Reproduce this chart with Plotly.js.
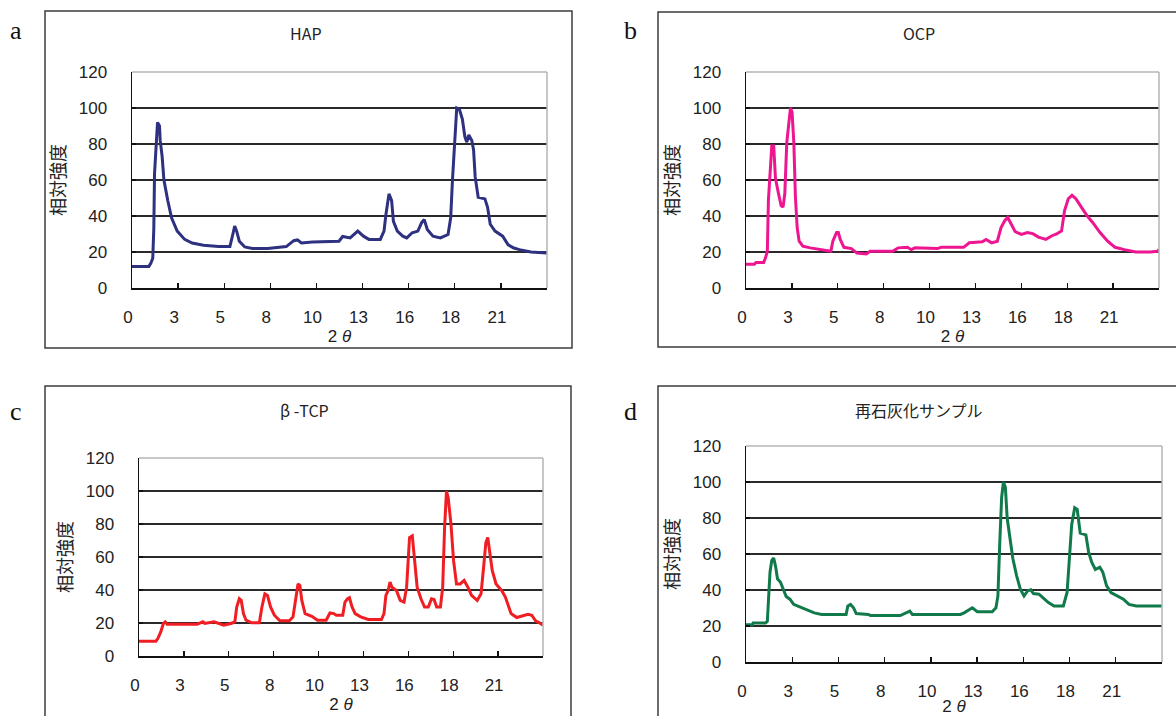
<!DOCTYPE html>
<html>
<head>
<meta charset="utf-8">
<script src="https://cdn.plot.ly/plotly-3.0.1.min.js"></script>
<style>
html,body{margin:0;padding:0;background:#fff;}
#chart{width:1176px;height:716px;}
</style>
</head>
<body>
<div id="chart"></div>
<script>
// ---- data (2θ, relative intensity) ----
const panelTitles = ['HAP', 'OCP', 'β -TCP', '再石灰化サンプル'];
const panelLetters = ['a', 'b', 'c', 'd'];

const xTickVals = [0, 2.6, 5.2, 7.8, 10.4, 13, 15.6, 18.2, 20.8];
const xTickText = ['0', '3', '5', '8', '10', '13', '16', '18', '21'];
const yTickVals = [0, 20, 40, 60, 80, 100, 120];

const xHAP = [0,0.95,1.06,1.17,1.23,1.27,1.38,1.44,1.55,1.59,1.70,1.80,2.02,2.23,2.55,2.97,3.39,4.03,4.88,5.52,5.69,5.79,5.90,6.05,6.36,6.79,7.64,8.70,9.12,9.33,9.55,10.18,11.67,11.88,12.30,12.73,13.05,13.36,14.00,14.21,14.32,14.49,14.64,14.74,14.96,15.27,15.49,15.80,16.12,16.33,16.48,16.65,16.97,17.39,17.82,17.97,18.07,18.20,18.31,18.46,18.63,18.77,18.88,18.99,19.16,19.26,19.35,19.52,19.90,20.05,20.20,20.47,20.90,21.21,21.53,21.85,22.49,23.40];
const yHAP = [12,12,13.7,16.5,33,63.5,82,92,90,82,73,60,48.5,39,31.6,27,25,23.7,23,23,30,34.4,31.6,26,22.8,22,22,23,26.3,26.7,25,25.6,26,28.6,27.8,31.6,28.8,27,27,31.6,41,52.3,48.5,37,31.6,28.8,27.8,30.7,31.6,36.3,38,32.5,28.8,27.8,29.7,39,60,82,100,99.3,93.7,84,81,85,82,76.7,61.7,50.4,49.5,44.8,35.4,31.6,28.8,24,22.2,21.3,20,19.4];

const xOCP = [0,0.47,0.57,1.0,1.10,1.21,1.27,1.36,1.46,1.57,1.67,1.84,1.99,2.10,2.20,2.31,2.44,2.52,2.61,2.71,2.80,2.90,3.01,3.22,3.64,4.28,4.81,4.92,5.13,5.23,5.34,5.55,5.97,6.29,6.82,7.03,8.31,8.62,9.15,9.36,9.58,10.85,11.06,12.33,12.65,13.39,13.60,13.92,14.24,14.45,14.66,14.83,14.98,15.25,15.61,15.93,16.25,16.57,16.99,17.31,17.63,17.88,18.05,18.26,18.47,18.69,19.00,19.32,19.64,20.06,20.49,20.91,21.44,22.08,22.92,23.31,23.40];
const yOCP = [13.2,13.2,14.2,14.2,16.6,20.4,48.7,65.7,78.9,78.9,60.8,52.5,45.8,44.9,52.5,80.8,94,100,97.7,80.8,50.6,33.6,26,23.2,22.3,21.3,20.4,26,30.8,30.8,27,22.6,21.9,19.4,18.9,20.4,20.4,22.3,22.6,21.3,22.3,21.9,22.6,22.6,25.1,25.7,27,25.1,26,33.6,37.4,39.2,36.4,31.3,29.8,30.8,30.2,28.3,27,28.9,30.2,31.7,43,49.6,51.5,49.6,44.9,40.2,36.4,30.8,26,22.6,21.3,20,20,20.4,21.3];

const xTCP = [0,0.98,1.09,1.26,1.41,1.52,1.63,3.37,3.70,3.81,4.35,4.68,4.90,5.33,5.55,5.66,5.81,5.92,6.05,6.20,6.53,6.97,7.12,7.29,7.44,7.62,7.84,8.16,8.71,8.92,9.10,9.21,9.32,9.43,9.62,10.01,10.34,10.84,11.06,11.28,11.43,11.80,11.93,12.08,12.19,12.34,12.52,12.84,13.28,14.04,14.19,14.30,14.43,14.54,14.65,14.91,15.13,15.35,15.50,15.59,15.67,15.83,15.93,16.11,16.33,16.54,16.76,16.94,17.09,17.24,17.46,17.59,17.70,17.81,17.91,18.07,18.22,18.39,18.61,18.83,19.05,19.26,19.59,19.81,19.96,20.09,20.20,20.31,20.46,20.68,21.01,21.22,21.55,21.88,22.20,22.53,22.75,22.97,23.19,23.40];
const yTCP = [9,9,10.6,14.6,19.7,20.7,19.3,19.3,20.7,19.7,20.7,19.7,18.7,19.7,20.7,29.7,34.7,33.7,25.7,21.7,20.1,20.1,29.7,37.7,36.7,29.7,24.7,21.3,21.3,23.7,37.7,43.7,42.7,33.7,25.7,24.1,21.7,21.7,26.1,25.7,24.7,24.7,32.7,34.7,35.3,29.7,25.7,23.7,22.1,22.1,25.7,36.7,39.7,44.8,41.7,39.7,33.7,32.7,41.7,61.8,71.8,72.8,59.8,41.7,34.7,29.7,29.7,34.7,34.2,29.7,29.7,41.7,77.9,100,95.9,79.9,57.8,43.7,43.7,45.8,41.7,36.7,33.7,37.7,53.8,68.8,71.8,63.8,51.8,43.7,39.7,35.7,25.7,23.3,24.1,25.3,24.7,21.3,20.1,18.7];

const xREM = [0,0.36,0.40,1.10,1.20,1.26,1.35,1.45,1.56,1.67,1.77,1.94,2.11,2.26,2.47,2.68,2.99,3.41,3.84,4.26,5.63,5.73,5.88,6.05,6.20,6.89,7.00,8.68,9.00,9.21,9.36,12.06,12.27,12.58,12.73,13.01,13.85,14.06,14.17,14.27,14.38,14.48,14.59,14.69,14.80,15.01,15.22,15.43,15.64,15.85,16.02,16.17,16.48,16.69,17.01,17.33,17.85,18.06,18.17,18.32,18.49,18.63,18.80,19.12,19.27,19.44,19.65,19.90,20.07,20.28,20.53,20.91,21.23,21.54,21.96,23.40];
const yREM = [20.7,20.7,21.7,21.7,22.6,36.7,49.9,56.5,57.8,52.7,46.2,44.3,39.6,36.4,34.9,32,30.7,29.2,27.3,26.4,26.4,31.1,32,30.1,26.9,26.4,25.8,25.8,27.3,28.3,26.4,26.4,27.3,29.2,30.1,27.9,27.9,30.1,36.7,65,91.4,100,97,80,72.5,57.5,48,40.5,36.7,39.6,40.1,38,37.7,35.8,33,31.1,31.1,38.6,53.7,76.3,85.7,84.8,71.6,70.6,61.2,55.6,51.4,52.7,49.9,42.4,38.6,36.7,34.9,32,31.1,31.1];

// ---- styling / layout ----
const W = 1176, H = 716;
const colors = ['#2e3080', '#ee1590', '#f01e23', '#117a4b'];
const numFamily = '"Liberation Sans", Arial, sans-serif';
const tickFont = {family: numFamily, size: 17, color: '#222'};
const cjk = '"Noto Sans CJK JP", "Noto Sans", sans-serif';

// plot areas in pixels [left, right, top, bottom]
const areas = [
  [132, 547, 72, 288],
  [746, 1159, 72, 288],
  [139, 543, 458, 656],
  [746, 1162, 446, 662]
];
// outer boxes in pixels [left, right, top, bottom]
const boxes = [
  [45, 572, 11, 348],
  [658, 1200, 12, 347],
  [45, 571, 386, 740],
  [658, 1200, 386, 740]
];
const titlePos = [[306, 33], [919, 33], [304, 410], [919, 410]];
const letterPos = [[16, 30], [630, 30], [16, 411], [630, 411]];

const xs = [xHAP, xOCP, xTCP, xREM];
const ys = [yHAP, yOCP, yTCP, yREM];

const traces = [];
const layout = {
  width: W, height: H,
  margin: {l: 0, r: 0, t: 0, b: 0},
  paper_bgcolor: '#fff', plot_bgcolor: '#fff',
  showlegend: false,
  shapes: [], annotations: []
};

for (let i = 0; i < 4; i++) {
  const n = i === 0 ? '' : String(i + 1);
  const [l, r, t, b] = areas[i];
  traces.push({
    x: xs[i], y: ys[i], type: 'scatter', mode: 'lines',
    xaxis: 'x' + n, yaxis: 'y' + n,
    line: {color: colors[i], width: 3},
    hoverinfo: 'x+y'
  });
  layout['xaxis' + n] = {
    domain: [l / W, r / W], anchor: 'y' + n,
    range: [0, 23.4], tickmode: 'array', tickvals: xTickVals, ticktext: xTickText,
    ticks: 'inside', ticklen: 5, tickwidth: 1.3, tickcolor: '#111',
    showline: true, linecolor: '#111', linewidth: 1.5,
    showgrid: false, zeroline: false,
    tickfont: tickFont, ticklabelstandoff: 13, ticklabelshift: -4,
    title: {text: '2 <i>θ</i>', font: {family: numFamily, size: 17, color: '#222'}, standoff: 1},
    fixedrange: true
  };
  layout['yaxis' + n] = {
    domain: [1 - b / H, 1 - t / H], anchor: 'x' + n,
    range: [0, 120], tickmode: 'array', tickvals: yTickVals,
    ticks: 'inside', ticklen: 4, tickwidth: 1.3, tickcolor: '#111',
    showline: true, linecolor: '#111', linewidth: 1.5,
    showgrid: true, gridcolor: '#2a2a2a', gridwidth: 1.5, zeroline: false,
    tickfont: tickFont, ticklabelstandoff: 20,
    title: {text: '相対強度', font: {family: cjk, size: 18, color: '#222'}, standoff: 8},
    fixedrange: true
  };
  // light gray top / right frame of plot area
  layout.shapes.push({type: 'line', xref: 'x' + n + ' domain', yref: 'y' + n + ' domain',
    x0: 0, x1: 1, y0: 1, y1: 1, line: {color: '#b5b5b5', width: 1.5}, layer: 'above'});
  layout.shapes.push({type: 'line', xref: 'x' + n + ' domain', yref: 'y' + n + ' domain',
    x0: 1, x1: 1, y0: 0, y1: 1, line: {color: '#b5b5b5', width: 1.5}, layer: 'above'});
  // outer chart box
  const [bl, br, bt, bb] = boxes[i];
  layout.shapes.push({type: 'rect', xref: 'paper', yref: 'paper',
    x0: bl / W, x1: br / W, y0: 1 - bb / H, y1: 1 - bt / H,
    line: {color: '#3c3c3c', width: 1.5}, layer: 'below'});
  layout.annotations.push({xref: 'paper', yref: 'paper', x: titlePos[i][0] / W, y: 1 - titlePos[i][1] / H,
    text: panelTitles[i], showarrow: false, xanchor: 'center', yanchor: 'middle',
    font: {family: cjk, size: 16, color: '#222'}});
  layout.annotations.push({xref: 'paper', yref: 'paper', x: letterPos[i][0] / W, y: 1 - letterPos[i][1] / H,
    text: panelLetters[i], showarrow: false, xanchor: 'center', yanchor: 'middle',
    font: {family: '"Liberation Serif", "Times New Roman", serif', size: 26, color: '#111'}});
}

Plotly.newPlot('chart', traces, layout, {displayModeBar: false, staticPlot: true});
</script>
</body>
</html>
